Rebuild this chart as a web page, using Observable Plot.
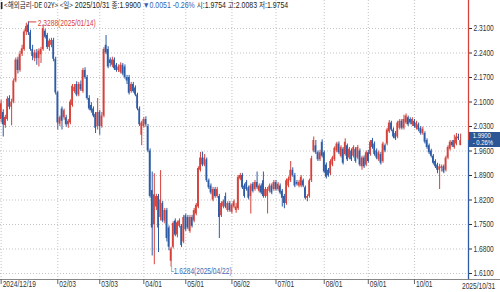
<!DOCTYPE html>
<html><head><meta charset="utf-8">
<script src="https://cdn.jsdelivr.net/npm/d3@7"></script>
<script src="https://cdn.jsdelivr.net/npm/@observablehq/plot@0.6"></script>
<style>
html,body{margin:0;padding:0;background:#fff;}
#wrap{position:relative;width:500px;height:292px;overflow:hidden;font-family:"Liberation Sans",Arial,sans-serif;}
#hdr{position:absolute;left:0;top:0;font-size:8.5px;line-height:10px;color:#222;white-space:nowrap;transform-origin:0 0;font-family:"Liberation Sans","Noto Sans CJK KR",sans-serif;}
#hdr .k{font-family:"Noto Sans CJK KR",sans-serif;font-size:8px;line-height:10px;}
#hdr .dn{color:#2f62b8;}
#hdr .mk{display:inline-block;width:2px;height:7px;background:#222;margin:0 2px 0 1px;vertical-align:-1px;}
#box{position:absolute;left:469px;width:31px;height:15px;background:#2b5595;color:#fff;font-size:8px;line-height:7.5px;overflow:hidden;}
#box div{transform-origin:0 0;transform:scaleX(0.74);white-space:nowrap;padding-left:5px;}
#lastlab{position:absolute;font-size:8.5px;line-height:10px;color:#333;white-space:nowrap;transform-origin:0 0;transform:scaleX(0.78);}
svg text{font-family:"Liberation Sans",Arial,sans-serif;}
</style></head>
<body><div id="wrap"></div>
<script>
// ---- data ----
const startDate = "2024-12-19", endDate = "2025-10-31";
const holidays = ["2024-12-24","2024-12-25","2024-12-26","2024-12-31","2025-01-01","2025-04-18","2025-04-21"];
const openV = [2.050,2.070,2.033,2.050,2.110,2.085,2.100,2.160,2.220,2.190,
2.236,2.250,2.300,2.320,2.298,2.250,2.225,2.240,2.224,2.235,
2.250,2.302,2.290,2.256,2.262,2.276,2.222,2.126,2.037,2.080,
2.055,2.055,2.035,2.040,2.090,2.130,2.150,2.120,2.150,2.130,
2.190,2.170,2.110,2.090,2.080,2.065,2.030,2.070,2.030,2.060,
2.262,2.250,2.220,2.205,2.220,2.205,2.190,2.185,2.205,2.200,
2.170,2.170,2.130,2.150,2.140,2.120,2.080,2.005,2.030,2.050,
2.030,1.960,1.847,1.750,1.800,1.830,1.770,1.810,1.760,1.790,
1.740,1.645,1.685,1.760,1.720,1.745,1.745,1.700,1.775,1.770,
1.730,1.770,1.760,1.780,1.800,1.905,1.940,1.920,1.935,1.875,
1.860,1.820,1.850,1.830,1.830,1.775,1.800,1.830,1.790,1.810,
1.785,1.800,1.790,1.795,1.880,1.890,1.860,1.870,1.855,1.830,
1.865,1.850,1.870,1.845,1.860,1.875,1.830,1.830,1.845,1.860,
1.850,1.870,1.850,1.860,1.845,1.830,1.810,1.860,1.875,1.905,
1.890,1.870,1.860,1.860,1.875,1.855,1.825,1.830,1.875,1.960,
1.975,1.955,1.935,1.985,1.955,1.920,1.905,1.895,1.920,1.935,
1.960,1.980,1.945,1.965,1.950,1.975,1.940,1.960,1.945,1.965,
1.940,1.960,1.915,1.940,1.920,1.955,1.950,1.990,1.980,1.960,
1.935,1.950,1.930,1.975,1.980,2.015,2.040,2.020,2.010,2.000,
2.025,2.045,2.025,2.040,2.055,2.050,2.035,2.045,2.025,2.035,
2.025,2.010,2.010,1.990,1.975,1.960,1.945,1.930,1.920,1.905,
1.910,1.915,1.905,1.940,1.965,1.985,1.970,1.980,2.000,1.9754];
const highV = [2.105,2.078,2.062,2.115,2.118,2.108,2.166,2.226,2.228,2.245,
2.262,2.306,2.325,2.3288,2.305,2.262,2.248,2.250,2.252,2.256,
2.320,2.308,2.296,2.280,2.282,2.282,2.228,2.130,2.060,2.086,
2.080,2.062,2.050,2.106,2.150,2.150,2.158,2.156,2.160,2.196,
2.198,2.176,2.118,2.098,2.086,2.070,2.110,2.076,2.070,2.255,
2.290,2.258,2.226,2.228,2.226,2.210,2.206,2.212,2.210,2.206,
2.176,2.176,2.156,2.156,2.146,2.125,2.086,2.045,2.056,2.058,
2.036,1.966,1.900,1.895,1.836,1.836,1.904,1.816,1.796,1.796,
1.746,1.685,1.758,1.766,1.760,1.766,1.750,1.776,1.780,1.776,
1.776,1.776,1.796,1.810,1.915,1.956,1.957,1.950,1.940,1.880,
1.866,1.856,1.856,1.856,1.836,1.815,1.820,1.840,1.815,1.816,
1.810,1.820,1.810,1.890,1.896,1.896,1.866,1.876,1.860,1.866,
1.870,1.876,1.900,1.866,1.866,1.900,1.856,1.856,1.866,1.866,
1.876,1.876,1.870,1.866,1.850,1.836,1.880,1.886,1.930,1.912,
1.896,1.876,1.876,1.890,1.880,1.860,1.835,1.880,1.945,2.000,
1.990,1.960,1.962,1.992,1.960,1.926,1.910,1.935,1.945,1.972,
1.985,1.986,1.975,1.970,1.995,1.980,1.970,1.966,1.975,1.970,
1.976,1.966,1.945,1.946,1.960,1.962,1.990,1.996,1.986,1.966,
1.960,1.956,1.985,1.980,2.025,2.047,2.045,2.026,2.016,2.045,
2.050,2.050,2.062,2.066,2.060,2.055,2.055,2.050,2.045,2.040,
2.030,2.028,2.015,1.995,1.980,1.965,1.950,1.935,1.925,1.922,
1.920,1.920,1.945,1.975,1.990,1.990,2.005,2.010,2.008,2.0083];
const lowV = [2.040,2.000,2.025,2.045,2.078,2.032,2.095,2.155,2.180,2.185,
2.230,2.245,2.290,2.290,2.245,2.218,2.215,2.205,2.200,2.210,
2.245,2.280,2.250,2.245,2.255,2.215,2.120,2.020,2.030,2.020,
2.048,2.028,2.025,2.035,2.085,2.125,2.115,2.115,2.130,2.125,
2.165,2.105,2.075,2.068,2.055,2.010,2.020,2.005,2.025,2.055,
2.235,2.195,2.200,2.198,2.190,2.185,2.184,2.180,2.175,2.165,
2.150,2.120,2.125,2.125,2.115,2.075,2.030,1.975,2.025,2.028,
1.955,1.825,1.660,1.635,1.790,1.670,1.760,1.755,1.752,1.700,
1.675,1.6284,1.680,1.715,1.712,1.740,1.684,1.695,1.730,1.735,
1.725,1.740,1.755,1.775,1.795,1.900,1.915,1.915,1.870,1.850,
1.835,1.815,1.825,1.825,1.710,1.770,1.795,1.795,1.785,1.785,
1.780,1.795,1.782,1.790,1.875,1.850,1.825,1.845,1.820,1.780,
1.840,1.845,1.850,1.840,1.835,1.825,1.825,1.780,1.840,1.835,
1.845,1.845,1.845,1.835,1.800,1.795,1.805,1.855,1.870,1.885,
1.855,1.860,1.855,1.855,1.855,1.820,1.815,1.825,1.870,1.955,
1.950,1.930,1.930,1.940,1.895,1.880,1.885,1.890,1.915,1.930,
1.955,1.950,1.940,1.920,1.945,1.930,1.935,1.930,1.940,1.925,
1.935,1.915,1.905,1.910,1.915,1.925,1.945,1.965,1.945,1.935,
1.930,1.920,1.925,1.955,1.975,2.010,2.015,1.995,1.990,1.995,
2.020,2.020,2.020,2.035,2.030,2.035,2.030,2.025,2.020,2.015,
2.005,2.005,1.980,1.965,1.950,1.940,1.920,1.910,1.895,1.850,
1.900,1.895,1.900,1.935,1.960,1.970,1.965,1.975,1.990,1.9754];
const closeV = [2.095,2.035,2.056,2.108,2.085,2.100,2.160,2.220,2.190,2.236,
2.252,2.300,2.316,2.298,2.250,2.230,2.240,2.224,2.245,2.250,
2.310,2.285,2.256,2.274,2.276,2.222,2.126,2.040,2.055,2.045,
2.075,2.035,2.045,2.100,2.145,2.142,2.120,2.150,2.135,2.190,
2.170,2.110,2.080,2.075,2.060,2.025,2.070,2.030,2.060,2.250,
2.240,2.200,2.210,2.220,2.195,2.190,2.200,2.205,2.180,2.170,
2.160,2.125,2.150,2.130,2.120,2.080,2.035,2.040,2.050,2.035,
1.960,1.830,1.740,1.835,1.830,1.740,1.820,1.760,1.790,1.710,
1.685,1.680,1.753,1.720,1.755,1.760,1.690,1.770,1.735,1.740,
1.770,1.745,1.790,1.805,1.910,1.940,1.920,1.940,1.875,1.855,
1.840,1.850,1.830,1.850,1.770,1.810,1.815,1.800,1.810,1.790,
1.805,1.815,1.800,1.885,1.890,1.855,1.830,1.850,1.825,1.860,
1.845,1.870,1.855,1.860,1.840,1.830,1.850,1.850,1.860,1.840,
1.870,1.850,1.865,1.840,1.825,1.810,1.875,1.880,1.905,1.890,
1.860,1.865,1.870,1.885,1.860,1.825,1.830,1.875,1.938,1.990,
1.955,1.935,1.955,1.945,1.900,1.885,1.890,1.930,1.940,1.968,
1.980,1.955,1.970,1.925,1.985,1.935,1.965,1.935,1.970,1.930,
1.970,1.920,1.940,1.915,1.955,1.930,1.985,1.970,1.950,1.940,
1.955,1.925,1.980,1.960,2.020,2.040,2.020,2.000,1.995,2.040,
2.045,2.025,2.050,2.060,2.035,2.040,2.050,2.030,2.040,2.020,
2.010,2.022,1.985,1.970,1.955,1.945,1.925,1.915,1.905,1.915,
1.915,1.900,1.940,1.970,1.985,1.975,1.990,2.000,1.9951,1.9900];
const yTicks = [1.61,1.68,1.75,1.82,1.89,1.96,2.03,2.10,2.17,2.24,2.31];
const xTickDates = ["2024-12-19","2025-02-03","2025-03-03","2025-04-01","2025-05-01","2025-06-02","2025-07-01","2025-08-01","2025-09-01","2025-10-01","2025-10-31"];
const xTickLabels = ["2024/12/19","02/03","03/03","04/01","05/01","06/02","07/01","08/01","09/01","10/01","2025/10/31"];
const peak = {date:"2025-01-14", value:2.3288, label:"2.3288(2025/01/14)"};
const trough = {date:"2025-04-22", value:1.6284, label:"└1.6284(2025/04/22)"};
const header = {name:"<해외금리-DE 02Y>", period:"<일>", date:"2025/10/31", close:"1.9900", chg:"▼0.0051", pct:"-0.26%", open:"1.9754", high:"2.0083", low:"1.9754"};
const lastPct = "- 0.26%";

// ---- trading-day calendar ----
const fmt = d3.utcFormat("%Y-%m-%d");
const dates = d3.utcDays(new Date(startDate+"T00:00:00Z"), d3.utcDay.offset(new Date(endDate+"T00:00:00Z"),1))
  .filter(d => d.getUTCDay()!==0 && d.getUTCDay()!==6 && !holidays.includes(fmt(d))).map(fmt);
const n = Math.min(dates.length, closeV.length);
const candles = d3.range(n).map(i => ({i, date:dates[i], open:openV[i], high:highV[i], low:lowV[i], close:closeV[i]}));
const idxOf = s => dates.indexOf(s);
const xTicks = xTickDates.map((d,k)=>({i:idxOf(d), label:xTickLabels[k]})).filter(t=>t.i>=0);
const gridTicks = xTicks.slice(0, xTicks.length-1);
const lastTick = xTicks[xTicks.length-1];

const RED="#d6413a", BLUE="#2d5ba5", GRID="#c4c4c4";
const col = d => d.close >= d.open ? RED : BLUE;
const xDom = [-0.31, 222.76], yDom = [1.5929, 2.39];
const W=500, H=292, mR=32, mB=13;
const pxPerX = (W-mR)/(xDom[1]-xDom[0]);
const pxPerY = (H-mB)/(yDom[1]-yDom[0]);
const last = candles[n-1];
const pk = {i:idxOf(peak.date), v:peak.value};
const tr = {i:idxOf(trough.date), v:trough.value};

const plot = Plot.plot({
  width:W, height:H, marginLeft:0, marginRight:mR, marginTop:0, marginBottom:mB,
  x:{domain:xDom, axis:null},
  y:{domain:yDom, axis:"right", ticks:yTicks, tickFormat:d=>d.toFixed(4), tickSize:3, tickPadding:2, label:null},
  style:{fontSize:"8.5px", color:"#333", background:"transparent", overflow:"visible"},
  marks:[
    Plot.ruleY(yTicks,{stroke:GRID, strokeDasharray:"1,2"}),
    Plot.ruleX(gridTicks,{x:"i", stroke:GRID, strokeDasharray:"1,2"}),
    Plot.ruleX(candles,{x:"i", y1:"low", y2:"high", stroke:col, strokeWidth:1}),
    Plot.rect(candles,{x1:d=>d.i-0.4, x2:d=>d.i+0.4, y1:"open", y2:"close", fill:col}),
    // bottom axis line and ticks
    Plot.ruleY([yDom[0]],{x1:xDom[0], x2:xDom[1]+mR/pxPerX, stroke:"#888"}),
    Plot.ruleX(gridTicks,{x:"i", y1:yDom[0], y2:yDom[0]-5/pxPerY, stroke:"#666"}),
    Plot.text(gridTicks,{x:"i", frameAnchor:"bottom", dy:7, dx:1.5, textAnchor:"start", text:"label", fill:"#333", fontSize:8.5}),
    // right axis line: red above last close, blue below
    Plot.ruleX([xDom[1]],{y1:last.close, y2:yDom[1], stroke:RED, strokeWidth:1.3}),
    Plot.ruleX([xDom[1]],{y1:yDom[0], y2:last.close, stroke:BLUE, strokeWidth:1.3}),
    // peak / trough annotations
    Plot.ruleY([pk],{x1:d=>d.i, x2:d=>d.i+4, y:"v", stroke:RED, strokeWidth:1}),
    Plot.text([pk],{x:d=>d.i+4, y:"v", text:()=>peak.label, textAnchor:"start", dx:1, dy:1, fill:RED, fontSize:8.5}),
    Plot.text([tr],{x:"i", y:"v", text:()=>trough.label, textAnchor:"start", dx:-2, dy:4, fill:"#3a6cb5", fontSize:8.5})
  ]
});
const wrap = document.getElementById("wrap");
wrap.appendChild(plot);

// condense the svg texts (the reference uses a narrow bitmap font)
plot.querySelectorAll("text").forEach(t => {
  const L = t.getComputedTextLength();
  if (L > 0) { t.setAttribute("textLength", (L*0.78).toFixed(1)); t.setAttribute("lengthAdjust","spacingAndGlyphs"); }
});

const esc = s => s.replace(/</g,"&lt;").replace(/>/g,"&gt;");
const hdr = document.createElement("div");
hdr.id="hdr";
hdr.innerHTML = `<span class="mk"></span><span class="k">${esc(header.name)} ${esc(header.period)}</span> ${header.date} <span class="k">종</span>:${header.close} <span class="dn">${header.chg} ${header.pct}</span> <span class="k">시</span>:${header.open} <span class="k">고</span>:${header.high} <span class="k">저</span>:${header.low}`;
wrap.appendChild(hdr);
const hw = hdr.getBoundingClientRect().width;
hdr.style.transform = `scaleX(${(288/hw).toFixed(3)})`;

// last date label (right-aligned under the price axis)
const xS = plot.scale("x");
const ll = document.createElement("div");
ll.id = "lastlab";
ll.textContent = lastTick.label;
ll.style.left = (xS.apply(lastTick.i) + 2) + "px";
ll.style.top = (H - mB + 2) + "px";
wrap.appendChild(ll);

const yS = plot.scale("y");
const box = document.createElement("div");
box.id="box";
box.style.top = (yS.apply(last.close)-8.5)+"px";
box.innerHTML = `<div>${last.close.toFixed(4)}<br>${lastPct}</div>`;
wrap.appendChild(box);
</script></body></html>
